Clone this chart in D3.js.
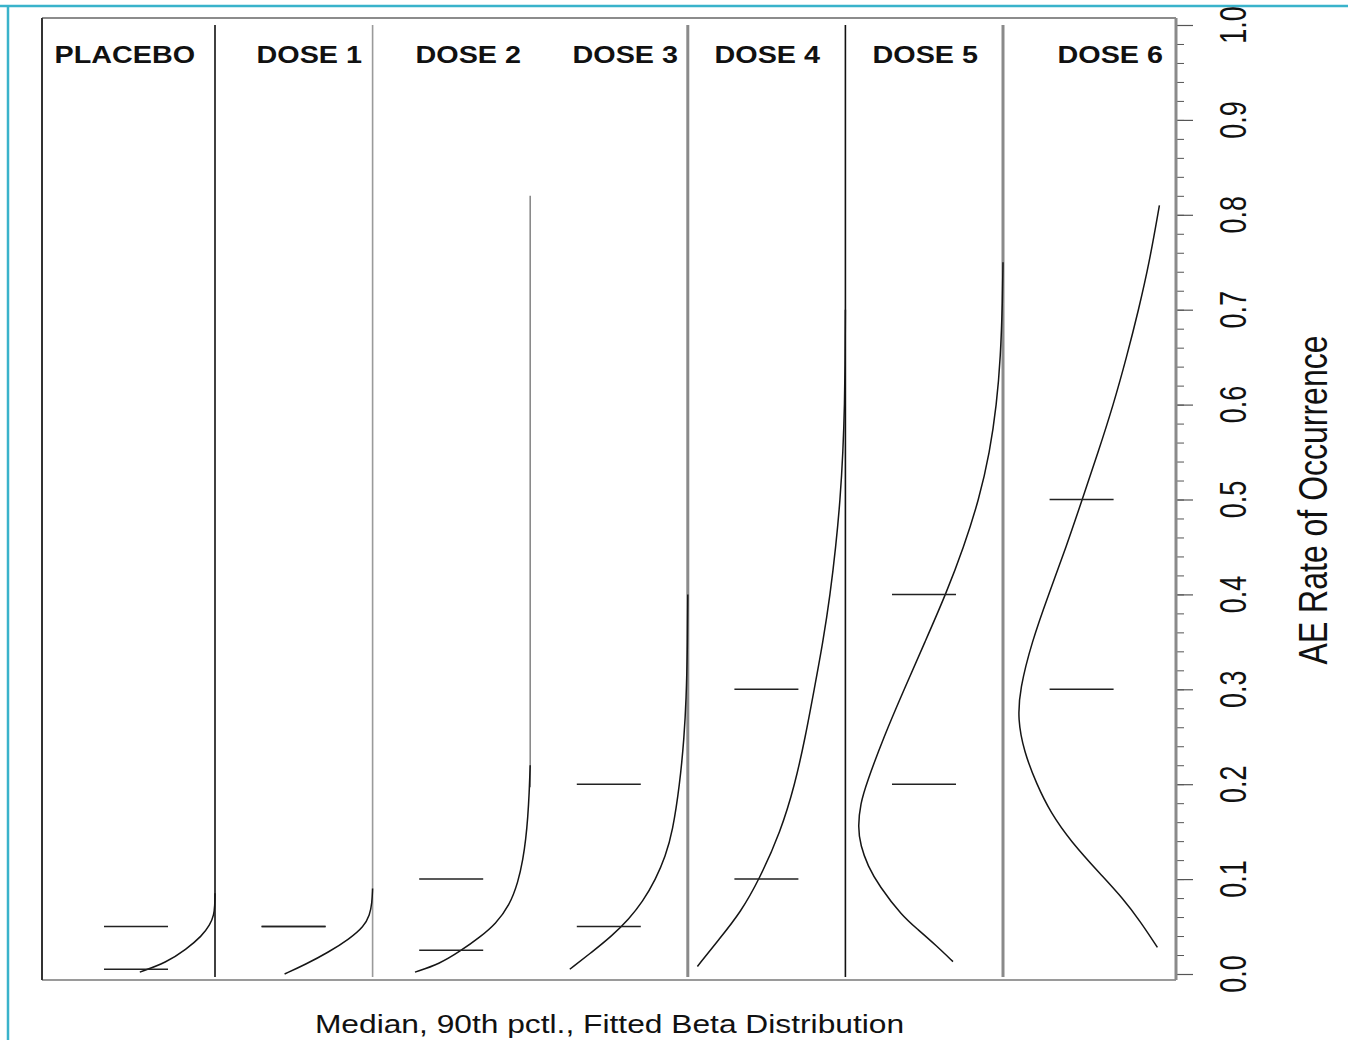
<!DOCTYPE html>
<html>
<head>
<meta charset="utf-8">
<script src="https://cdn.jsdelivr.net/npm/d3@7"></script>
<style>
  html, body { margin: 0; padding: 0; background: #fff; }
  svg { display: block; font-family: "Liberation Sans", Arial, Helvetica, sans-serif; }
</style>
</head>
<body>
<svg id="chart" width="1348" height="1040"></svg>
<script>
// ---------------- data ----------------
const panels = ["PLACEBO", "DOSE 1", "DOSE 2", "DOSE 3", "DOSE 4", "DOSE 5", "DOSE 6"];

// medians and 90th percentiles of AE rate per arm
const medians = [0.005, 0.05, 0.025, 0.05, 0.10, 0.20, 0.30];
const pct90   = [0.05, 0.05, 0.10, 0.20, 0.30, 0.40, 0.50];

// fitted beta densities: [rate, density]
const placeboCurve = [[0.002, 1.88], [0.012, 1.22], [0.026, 0.72], [0.040, 0.33], [0.052, 0.12], [0.062, 0.03], [0.072, 0.005], [0.085, 0]];
const dose1Curve   = [[0.000, 2.20], [0.010, 1.68], [0.023, 1.10], [0.037, 0.58], [0.050, 0.22], [0.062, 0.07], [0.075, 0.015], [0.090, 0]];
const dose2Curve   = [[0.002, 2.88], [0.0105, 2.27], [0.024, 1.75], [0.039, 1.25], [0.053, 0.86], [0.072, 0.52], [0.097, 0.30],
                      [0.121, 0.18], [0.142, 0.11], [0.165, 0.06], [0.190, 0.025], [0.220, 0]];
const dose3Curve   = [[0.005, 2.95], [0.023, 2.40], [0.040, 1.90], [0.058, 1.47], [0.076, 1.13], [0.100, 0.80], [0.124, 0.56],
                      [0.150, 0.38], [0.200, 0.20], [0.250, 0.09], [0.290, 0.04], [0.340, 0.01], [0.400, 0]];
const dose4Curve   = [[0.008, 3.70], [0.037, 3.15], [0.065, 2.62], [0.100, 2.15], [0.150, 1.62], [0.200, 1.26], [0.250, 1.00],
                      [0.300, 0.78], [0.350, 0.56], [0.400, 0.38], [0.450, 0.24], [0.500, 0.13], [0.550, 0.06], [0.600, 0.02],
                      [0.650, 0.006], [0.700, 0]];
const dose5Curve   = [[0.013, 1.25], [0.030, 1.67], [0.047, 2.13], [0.061, 2.52], [0.093, 3.10], [0.114, 3.38], [0.135, 3.56],
                      [0.155, 3.63], [0.180, 3.56], [0.200, 3.42], [0.250, 2.98], [0.300, 2.47], [0.350, 1.95], [0.400, 1.43],
                      [0.450, 0.98], [0.500, 0.60], [0.550, 0.33], [0.600, 0.16], [0.650, 0.06], [0.710, 0.012], [0.750, 0]];
const dose6Curve   = [[0.028, 0.08], [0.055, 0.50], [0.080, 0.95], [0.105, 1.50], [0.140, 2.25], [0.170, 2.75], [0.200, 3.10],
                      [0.235, 3.42], [0.268, 3.57], [0.300, 3.52], [0.350, 3.22], [0.400, 2.80], [0.450, 2.36], [0.500, 1.96],
                      [0.550, 1.56], [0.600, 1.18], [0.650, 0.85], [0.700, 0.55], [0.750, 0.28], [0.810, 0.03]];
const curves = [placeboCurve, dose1Curve, dose2Curve, dose3Curve, dose4Curve, dose5Curve, dose6Curve];

// extent of the drawn zero-density baseline of each panel [from rate, to rate]
const zeroLines = [[0, 1], [0, 1], [0.20, 0.82], [0, 1], [0, 1], [0, 1], null];

// axis
const majorTicks = [0, 0.1, 0.2, 0.3, 0.4, 0.5, 0.6, 0.7, 0.8, 0.9, 1.0];
const tickLabels = ["0.0", "0.1", "0.2", "0.3", "0.4", "0.5", "0.6", "0.7", "0.8", "0.9", "1.0"];
const minorTicks = d3.range(0, 51).map(i => i / 50);
const yTitle = "AE Rate of Occurrence";
const xTitle = "Median, 90th pctl., Fitted Beta Distribution";

// ---------------- styles / layout ----------------
const zeroStyle = [
  { c: "#111", w: 1.6 }, { c: "#9a9a9a", w: 1.6 }, { c: "#8a8a8a", w: 1.6 },
  { c: "#8a8a8a", w: 3 }, { c: "#111", w: 1.6 }, { c: "#8a8a8a", w: 3 }, null
];
const labelDx = [-20, -10.6, -9.2, -9.8, -25.4, -25, 2.4];
const frame = { left: 42, right: 1176, top: 18, bottom: 980 };

// ---------------- drawing ----------------
const svg = d3.select("#chart");

// outer cyan border lines
svg.append("line").attr("x1", 0).attr("x2", 1348).attr("y1", 6).attr("y2", 6)
  .attr("stroke", "#3ab3cb").attr("stroke-width", 2.5);
svg.append("line").attr("x1", 8).attr("x2", 8).attr("y1", 6).attr("y2", 1040)
  .attr("stroke", "#3ab3cb").attr("stroke-width", 2.5);

const y = d3.scaleLinear().domain([0, 1]).range([974, 25]);
const xPanel = d3.scalePoint().domain(panels).range([215, 1160.6]).padding(0);
const xDens = d3.scaleLinear().domain([0, 4]).range([0, 160]);

// frame
svg.append("line").attr("x1", frame.left).attr("x2", frame.right).attr("y1", frame.top).attr("y2", frame.top)
  .attr("stroke", "#8c8c8c").attr("stroke-width", 2);
svg.append("line").attr("x1", frame.left).attr("x2", frame.right).attr("y1", frame.bottom).attr("y2", frame.bottom)
  .attr("stroke", "#9a9a9a").attr("stroke-width", 2);
svg.append("line").attr("x1", frame.left).attr("x2", frame.left).attr("y1", frame.top).attr("y2", frame.bottom)
  .attr("stroke", "#333").attr("stroke-width", 2);

// right axis
const gAxis = svg.append("g").attr("transform", `translate(${frame.right},0)`);
gAxis.append("g").call(d3.axisRight(y).tickValues(minorTicks).tickSize(8).tickFormat(""))
  .call(g => g.select(".domain").remove())
  .selectAll("line").attr("stroke", "#555").attr("stroke-width", 1);
gAxis.append("g").call(d3.axisRight(y).tickValues(majorTicks).tickSize(17).tickFormat(""))
  .call(g => g.select(".domain").remove())
  .selectAll("line").attr("stroke", "#555").attr("stroke-width", 1.2);
svg.append("line").attr("x1", frame.right).attr("x2", frame.right).attr("y1", frame.top).attr("y2", frame.bottom)
  .attr("stroke", "#8a8a8a").attr("stroke-width", 3);

// tick labels (rotated)
svg.append("g").selectAll("text").data(majorTicks).join("text")
  .attr("transform", (d) => `translate(1233,${y(d)}) scale(1.4,1) rotate(-90)`)
  .attr("text-anchor", "middle").attr("dominant-baseline", "central")
  .attr("font-size", 27).attr("fill", "#111")
  .text((d, i) => tickLabels[i]);

// axis title
svg.append("text")
  .attr("transform", `translate(1313,500) scale(1.27,1) rotate(-90)`)
  .attr("text-anchor", "middle").attr("dominant-baseline", "central")
  .attr("font-size", 32).attr("fill", "#111")
  .text(yTitle);

// bottom title
svg.append("text")
  .attr("transform", `translate(609.5,1033) scale(1.27,1)`)
  .attr("text-anchor", "middle")
  .attr("font-size", 25).attr("fill", "#111")
  .text(xTitle);

// zero-density baselines
panels.forEach((p, i) => {
  const z = zeroLines[i];
  if (!z) return;
  const x0 = xPanel(p);
  svg.append("line")
    .attr("x1", x0).attr("x2", x0)
    .attr("y1", Math.min(y(z[0]) + 3, frame.bottom - 3)).attr("y2", y(z[1]))
    .attr("stroke", zeroStyle[i].c).attr("stroke-width", zeroStyle[i].w);
});

// density curves
const line = d3.line().curve(d3.curveBasis);
panels.forEach((p, i) => {
  const x0 = xPanel(p);
  svg.append("path")
    .datum(curves[i])
    .attr("d", line.x(d => x0 - xDens(d[1])).y(d => y(d[0])))
    .attr("fill", "none").attr("stroke", "#151515").attr("stroke-width", 1.5);
});

// median / 90th percentile markers
const markers = [];
panels.forEach((p, i) => {
  markers.push({ p, v: medians[i] });
  markers.push({ p, v: pct90[i] });
});
svg.append("g").selectAll("line").data(markers).join("line")
  .attr("x1", d => xPanel(d.p) - 111).attr("x2", d => xPanel(d.p) - 47)
  .attr("y1", d => y(d.v)).attr("y2", d => y(d.v))
  .attr("stroke", "#222").attr("stroke-width", 1.5);

// panel labels
svg.append("g").selectAll("text").data(panels).join("text")
  .attr("transform", (d, i) => `translate(${xPanel(d) + labelDx[i]},63) scale(1.25,1)`)
  .attr("text-anchor", "end")
  .attr("font-size", 23).attr("font-weight", "bold").attr("fill", "#111")
  .text(d => d);
</script>
</body>
</html>
